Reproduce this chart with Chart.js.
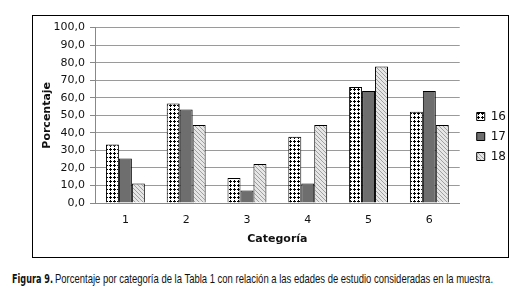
<!DOCTYPE html>
<html>
<head>
<meta charset="utf-8">
<script src="https://cdn.jsdelivr.net/npm/chart.js@4"></script>
<style>
  body { margin: 0; background: #fff; width: 510px; height: 293px; position: relative; overflow: hidden; }
  #box { position: absolute; left: 32px; top: 15px; width: 475px; height: 241px; border: 1px solid #000; }
  #wrap { position: absolute; left: 0; top: 0; width: 475px; height: 241px; }
  .cap { position: absolute; top: 271px; white-space: nowrap; color: #111; line-height: 16px; transform-origin: 0 50%; }
  #capB { left: 12px; font-family: "DejaVu Sans", sans-serif; font-weight: bold; font-size: 11.5px; }
  #capT { left: 55px; font-family: "Liberation Sans", sans-serif; font-size: 13px; }
</style>
</head>
<body>
<div id="box"><div id="wrap"><canvas id="myChart"></canvas></div></div>
<div class="cap" id="capB">Figura 9.</div>
<div class="cap" id="capT">Porcentaje por categoría de la Tabla 1 con relación a las edades de estudio consideradas en la muestra.</div>
<script>
// Data
const categorias = ["1", "2", "3", "4", "5", "6"];
const edades = ["16", "17", "18"];
const edad16 = [33.3, 56.7, 14.3, 37.8, 66.1, 52.0];
const edad17 = [25.3, 53.3, 7.1, 11.1, 63.9, 63.9];
const edad18 = [11.1, 44.4, 22.2, 44.4, 77.8, 44.4];
const yTicks = [0, 10, 20, 30, 40, 50, 60, 70, 80, 90, 100];

// squeeze the caption like the condensed font in the figure
function squeeze(id, w) {
  var el = document.getElementById(id);
  el.style.transform = "scaleX(" + (w / el.offsetWidth) + ")";
}
squeeze("capB", 41);
squeeze("capT", 438);

// patterns for bars
function makePattern(kind) {
  var c = document.createElement("canvas");
  c.width = 4; c.height = 4;
  var g = c.getContext("2d");
  if (kind === "dots") {
    g.fillStyle = "#fff"; g.fillRect(0, 0, 4, 4);
    g.fillStyle = "#000";
    g.fillRect(1, 0, 1, 3);
    g.fillRect(0, 1, 3, 1);
  } else if (kind === "hatch") {
    g.fillStyle = "#e6e6e6"; g.fillRect(0, 0, 4, 4);
    g.fillStyle = "#a0a0a0";
    for (var i = 0; i < 4; i++) g.fillRect(i, i, 1, 1);
  }
  return g.createPattern(c, "repeat");
}

// nudge the legend to the right, away from the plot
const legendShift = {
  id: "legendShift",
  afterLayout: function (chart) {
    chart.legend.left += 9;
    chart.legend.right += 9;
    chart.legend.top -= 2;
    chart.legend.bottom -= 2;
  },
};

const ctx = document.getElementById("myChart");
var myBarChart = new Chart(ctx, {
  type: "bar",
  data: {
    labels: categorias,
    datasets: [
      { label: edades[0], data: edad16, backgroundColor: makePattern("dots"), borderColor: "#000", borderWidth: 1 },
      { label: edades[1], data: edad17, backgroundColor: "#6e6e6e", borderColor: "#000", borderWidth: 1 },
      { label: edades[2], data: edad18, backgroundColor: makePattern("hatch"), borderColor: "#000", borderWidth: 1 },
    ],
  },
  plugins: [legendShift],
  options: {
    responsive: true,
    maintainAspectRatio: false,
    animation: false,
    devicePixelRatio: 1,
    layout: { padding: { left: 4, right: 1, top: 8, bottom: 4 } },
    datasets: { bar: { barPercentage: 1.0, categoryPercentage: 0.64 } },
    plugins: {
      tooltip: { enabled: false },
      legend: {
        position: "right",
        labels: {
          boxWidth: 8, boxHeight: 8, padding: 8,
          color: "#111",
          font: { family: "DejaVu Sans", size: 12 },
        },
      },
    },
    scales: {
      x: {
        afterFit: function (s) { s.height = 50; },
        grid: { display: false, drawTicks: false, tickLength: 0 },
        border: { color: "#888" },
        ticks: { color: "#111", font: { family: "DejaVu Sans", size: 11 }, padding: 11 },
        title: { display: true, text: "Categoría", color: "#111", font: { family: "DejaVu Sans", size: 11, weight: "bold" }, padding: { top: 0, bottom: 7 } },
      },
      y: {
        min: 0, max: 100,
        afterBuildTicks: function (s) { s.ticks = yTicks.map(function (v) { return { value: v }; }); },
        afterFit: function (s) { s.width = 58; },
        grid: { color: "#9a9a9a", tickLength: 5, tickColor: "#888" },
        border: { color: "#888" },
        ticks: {
          color: "#111", font: { family: "DejaVu Sans", size: 11 }, padding: 5,
          callback: function (v) { return v.toFixed(1).replace(".", ","); },
        },
        title: { display: true, text: "Porcentaje", color: "#111", font: { family: "DejaVu Sans", size: 11, weight: "bold" }, padding: { top: 4, bottom: 4 } },
      },
    },
  },
});
</script>
</body>
</html>
